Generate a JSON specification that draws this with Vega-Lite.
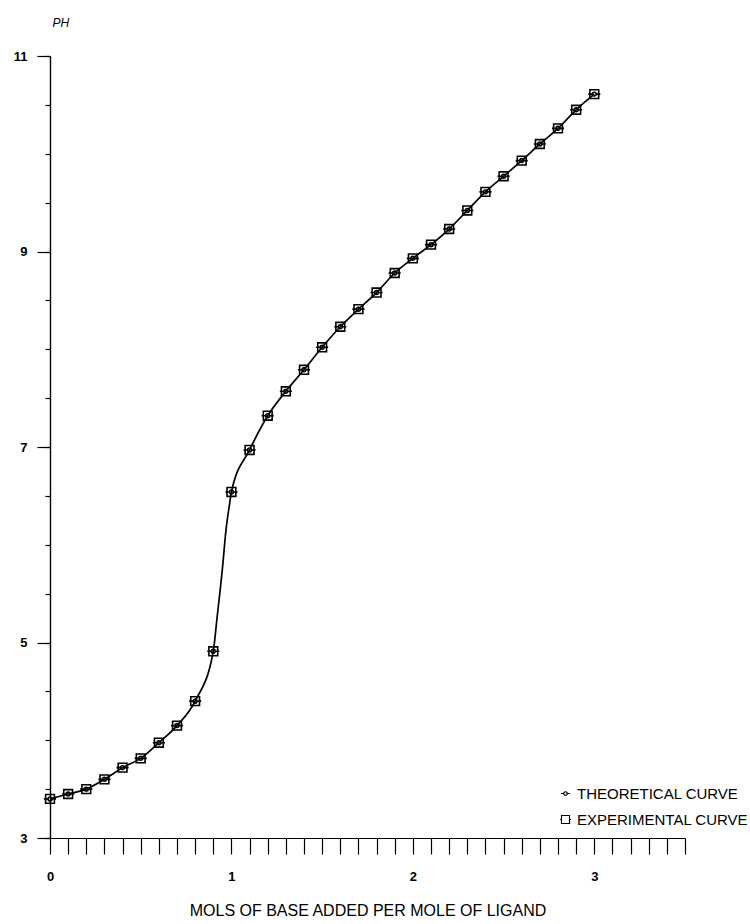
{
  "$schema": "https://vega.github.io/schema/vega-lite/v6.json",
  "width": 635,
  "height": 782,
  "autosize": {"type": "none"},
  "padding": {"left": 50, "top": 56, "right": 65, "bottom": 86},
  "background": "white",
  "config": {
    "view": {"stroke": null},
    "font": "Liberation Sans",
    "axis": {"grid": false, "domainColor": "black", "tickColor": "black", "labelColor": "black", "titleColor": "black", "domainWidth": 1.2, "tickWidth": 1.2}
  },
  "datasets": {
    "curve": [
      {"x": 0, "pH": 3.40}, {"x": 0.1, "pH": 3.45}, {"x": 0.2, "pH": 3.50}, {"x": 0.3, "pH": 3.60},
      {"x": 0.4, "pH": 3.72}, {"x": 0.5, "pH": 3.815}, {"x": 0.6, "pH": 3.975}, {"x": 0.7, "pH": 4.15},
      {"x": 0.8, "pH": 4.40}, {"x": 0.9, "pH": 4.91}, {"x": 0.92, "pH": 5.24},
      {"x": 0.95, "pH": 5.75}, {"x": 0.97, "pH": 6.15}, {"x": 0.99, "pH": 6.42}, {"x": 1.0, "pH": 6.54},
      {"x": 1.1, "pH": 6.97}, {"x": 1.2, "pH": 7.32}, {"x": 1.3, "pH": 7.57}, {"x": 1.4, "pH": 7.79},
      {"x": 1.5, "pH": 8.02}, {"x": 1.6, "pH": 8.23}, {"x": 1.7, "pH": 8.41}, {"x": 1.8, "pH": 8.58},
      {"x": 1.9, "pH": 8.78}, {"x": 2.0, "pH": 8.93}, {"x": 2.1, "pH": 9.07}, {"x": 2.2, "pH": 9.23},
      {"x": 2.3, "pH": 9.42}, {"x": 2.4, "pH": 9.61}, {"x": 2.5, "pH": 9.77}, {"x": 2.6, "pH": 9.93},
      {"x": 2.7, "pH": 10.10}, {"x": 2.8, "pH": 10.26}, {"x": 2.9, "pH": 10.45}, {"x": 3.0, "pH": 10.61}
    ],
    "markers": [
      {"x": 0, "pH": 3.40, "series": "EXPERIMENTAL CURVE"}, {"x": 0.1, "pH": 3.45, "series": "EXPERIMENTAL CURVE"},
      {"x": 0.2, "pH": 3.50, "series": "EXPERIMENTAL CURVE"}, {"x": 0.3, "pH": 3.60, "series": "EXPERIMENTAL CURVE"},
      {"x": 0.4, "pH": 3.72, "series": "EXPERIMENTAL CURVE"}, {"x": 0.5, "pH": 3.815, "series": "EXPERIMENTAL CURVE"},
      {"x": 0.6, "pH": 3.975, "series": "EXPERIMENTAL CURVE"}, {"x": 0.7, "pH": 4.15, "series": "EXPERIMENTAL CURVE"},
      {"x": 0.8, "pH": 4.40, "series": "EXPERIMENTAL CURVE"}, {"x": 0.9, "pH": 4.91, "series": "EXPERIMENTAL CURVE"},
      {"x": 1.0, "pH": 6.54, "series": "EXPERIMENTAL CURVE"}, {"x": 1.1, "pH": 6.97, "series": "EXPERIMENTAL CURVE"},
      {"x": 1.2, "pH": 7.32, "series": "EXPERIMENTAL CURVE"}, {"x": 1.3, "pH": 7.57, "series": "EXPERIMENTAL CURVE"},
      {"x": 1.4, "pH": 7.79, "series": "EXPERIMENTAL CURVE"}, {"x": 1.5, "pH": 8.02, "series": "EXPERIMENTAL CURVE"},
      {"x": 1.6, "pH": 8.23, "series": "EXPERIMENTAL CURVE"}, {"x": 1.7, "pH": 8.41, "series": "EXPERIMENTAL CURVE"},
      {"x": 1.8, "pH": 8.58, "series": "EXPERIMENTAL CURVE"}, {"x": 1.9, "pH": 8.78, "series": "EXPERIMENTAL CURVE"},
      {"x": 2.0, "pH": 8.93, "series": "EXPERIMENTAL CURVE"}, {"x": 2.1, "pH": 9.07, "series": "EXPERIMENTAL CURVE"},
      {"x": 2.2, "pH": 9.23, "series": "EXPERIMENTAL CURVE"}, {"x": 2.3, "pH": 9.42, "series": "EXPERIMENTAL CURVE"},
      {"x": 2.4, "pH": 9.61, "series": "EXPERIMENTAL CURVE"}, {"x": 2.5, "pH": 9.77, "series": "EXPERIMENTAL CURVE"},
      {"x": 2.6, "pH": 9.93, "series": "EXPERIMENTAL CURVE"}, {"x": 2.7, "pH": 10.10, "series": "EXPERIMENTAL CURVE"},
      {"x": 2.8, "pH": 10.26, "series": "EXPERIMENTAL CURVE"}, {"x": 2.9, "pH": 10.45, "series": "EXPERIMENTAL CURVE"},
      {"x": 3.0, "pH": 10.61, "series": "EXPERIMENTAL CURVE"},
      {"x": 0, "pH": 3.40, "series": "THEORETICAL CURVE"}, {"x": 0.1, "pH": 3.45, "series": "THEORETICAL CURVE"},
      {"x": 0.2, "pH": 3.50, "series": "THEORETICAL CURVE"}, {"x": 0.3, "pH": 3.60, "series": "THEORETICAL CURVE"},
      {"x": 0.4, "pH": 3.72, "series": "THEORETICAL CURVE"}, {"x": 0.5, "pH": 3.815, "series": "THEORETICAL CURVE"},
      {"x": 0.6, "pH": 3.975, "series": "THEORETICAL CURVE"}, {"x": 0.7, "pH": 4.15, "series": "THEORETICAL CURVE"},
      {"x": 0.8, "pH": 4.40, "series": "THEORETICAL CURVE"}, {"x": 0.9, "pH": 4.91, "series": "THEORETICAL CURVE"},
      {"x": 1.0, "pH": 6.54, "series": "THEORETICAL CURVE"}, {"x": 1.1, "pH": 6.97, "series": "THEORETICAL CURVE"},
      {"x": 1.2, "pH": 7.32, "series": "THEORETICAL CURVE"}, {"x": 1.3, "pH": 7.57, "series": "THEORETICAL CURVE"},
      {"x": 1.4, "pH": 7.79, "series": "THEORETICAL CURVE"}, {"x": 1.5, "pH": 8.02, "series": "THEORETICAL CURVE"},
      {"x": 1.6, "pH": 8.23, "series": "THEORETICAL CURVE"}, {"x": 1.7, "pH": 8.41, "series": "THEORETICAL CURVE"},
      {"x": 1.8, "pH": 8.58, "series": "THEORETICAL CURVE"}, {"x": 1.9, "pH": 8.78, "series": "THEORETICAL CURVE"},
      {"x": 2.0, "pH": 8.93, "series": "THEORETICAL CURVE"}, {"x": 2.1, "pH": 9.07, "series": "THEORETICAL CURVE"},
      {"x": 2.2, "pH": 9.23, "series": "THEORETICAL CURVE"}, {"x": 2.3, "pH": 9.42, "series": "THEORETICAL CURVE"},
      {"x": 2.4, "pH": 9.61, "series": "THEORETICAL CURVE"}, {"x": 2.5, "pH": 9.77, "series": "THEORETICAL CURVE"},
      {"x": 2.6, "pH": 9.93, "series": "THEORETICAL CURVE"}, {"x": 2.7, "pH": 10.10, "series": "THEORETICAL CURVE"},
      {"x": 2.8, "pH": 10.26, "series": "THEORETICAL CURVE"}, {"x": 2.9, "pH": 10.45, "series": "THEORETICAL CURVE"},
      {"x": 3.0, "pH": 10.61, "series": "THEORETICAL CURVE"}
    ]
  },
  "encoding": {
    "x": {
      "field": "x", "type": "quantitative",
      "scale": {"domain": [0, 3.5], "nice": false, "zero": false},
      "axis": {
        "values": [0, 0.1, 0.2, 0.3, 0.4, 0.5, 0.6, 0.7, 0.8, 0.9, 1, 1.1, 1.2, 1.3, 1.4, 1.5, 1.6, 1.7, 1.8, 1.9, 2, 2.1, 2.2, 2.3, 2.4, 2.5, 2.6, 2.7, 2.8, 2.9, 3, 3.1, 3.2, 3.3, 3.4, 3.5],
        "labelExpr": "abs(datum.value - round(datum.value)) < 0.001 ? format(datum.value, 'd') : ''",
        "tickSize": 16, "labelPadding": 16, "labelFontSize": 13, "labelFontWeight": "bold",
        "labelFlush": false, "labelOverlap": false,
        "title": "MOLS OF BASE ADDED PER MOLE OF LIGAND",
        "titleFontSize": 16, "titleFontWeight": "normal", "titleY": 72, "titleBaseline": "middle"
      }
    }
  },
  "layer": [
    {
      "data": {"name": "curve"},
      "mark": {"type": "line", "color": "black", "strokeWidth": 1.7, "interpolate": "monotone"},
      "encoding": {
        "y": {
          "field": "pH", "type": "quantitative",
          "scale": {"domain": [3, 11], "nice": false, "zero": false},
          "axis": {
            "orient": "left",
            "values": [3, 5, 7, 9, 11],
            "tickSize": 13, "labelPadding": 10, "labelFontSize": 13, "labelFontWeight": "bold",
            "labelFlush": false, "labelOverlap": false,
            "title": "PH", "titleAngle": 0, "titleAlign": "left", "titleBaseline": "middle",
            "titleX": 2, "titleY": -34, "titleFontSize": 12, "titleFontWeight": "normal", "titleFontStyle": "italic"
          }
        }
      }
    },
    {
      "data": {"name": "markers"},
      "mark": {"type": "point", "filled": false, "color": "black", "strokeWidth": 1.6, "size": 121, "opacity": 1},
      "encoding": {
        "y": {
          "field": "pH", "type": "quantitative",
          "axis": {
            "orient": "left",
            "values": [3, 3.5, 4, 4.5, 5, 5.5, 6, 6.5, 7, 7.5, 8, 8.5, 9, 9.5, 10, 10.5, 11],
            "tickSize": 5, "labels": false, "title": null, "domain": true
          }
        },
        "shape": {
          "field": "series", "type": "nominal",
          "scale": {
            "domain": ["THEORETICAL CURVE", "EXPERIMENTAL CURVE"],
            "range": [
              "M-0.9,0H-0.35M0.35,0H0.9M0.35,0A0.35,0.35,0,1,1,-0.35,0A0.35,0.35,0,1,1,0.35,0",
              "M-0.8,-0.8H0.8V0.8H-0.8ZM-1.1,0H-0.8M0.8,0H1.1"
            ]
          },
          "legend": {
            "orient": "none", "legendX": 508, "legendY": 730, "title": null,
            "labelFontSize": 15, "labelColor": "black", "labelFont": "Liberation Sans", "labelLimit": 400,
            "symbolStrokeColor": "black", "symbolStrokeWidth": 1.1, "symbolFillColor": "transparent",
            "rowPadding": 10, "labelOffset": 4
          }
        }
      }
    }
  ],
  "resolve": {"axis": {"y": "independent"}}
}
